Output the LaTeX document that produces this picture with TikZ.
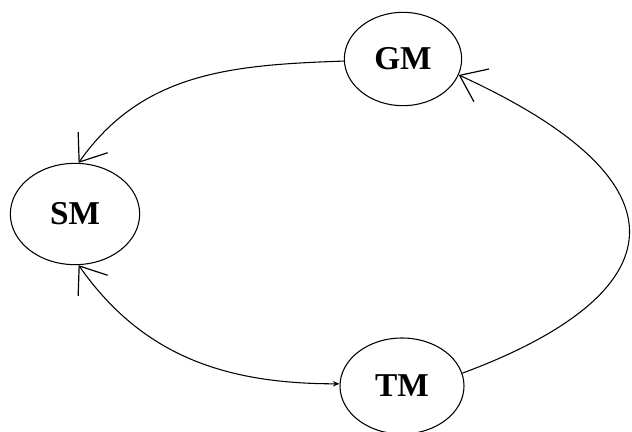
\documentclass[tikz,border=0pt]{standalone}
\usepackage{fontspec}
\setmainfont{Liberation Serif}
\usetikzlibrary{shapes.geometric,arrows.meta}
\begin{document}
\begin{tikzpicture}[x=0.75pt,y=-0.75pt,
  st/.style={draw,ellipse,line width=0.8pt,inner sep=0pt,font=\fontsize{25}{25}\selectfont\bfseries},
  ln/.style={line width=0.8pt},
  big/.tip={Straight Barb[length=18pt,width=27pt,line width=0.9pt]},
  small/.tip={Stealth[length=5pt,width=4pt]}]
\fill[white] (0,0) rectangle (632,432);
\useasboundingbox (0,0) rectangle (632,432);
\node[st,minimum width=88pt,minimum height=70pt] (gm) at (403,59) {GM};
\node[st,minimum width=97pt,minimum height=76pt] (sm) at (75,214) {SM};
\node[st,minimum width=93pt,minimum height=72pt] (tm) at (402,386) {TM};
\draw[ln,-big] (gm.182) to[out=182,in=55] (sm.86);
\draw[ln,big-small] (sm.-86) to[out=-55,in=180] (tm.178);
\draw[ln,-big] (tm.12) .. controls (660,300) and (710,190) .. (gm.-16);
\end{tikzpicture}
\end{document}
